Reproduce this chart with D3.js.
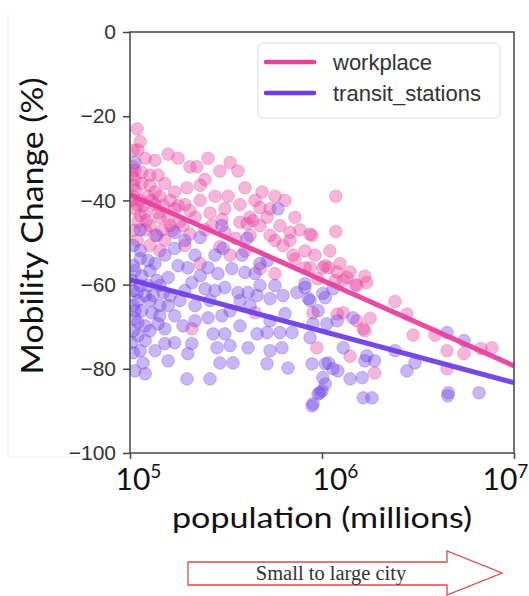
<!DOCTYPE html>
<html><head><meta charset="utf-8">
<script src="https://cdn.jsdelivr.net/npm/d3@7"></script>
<style>body{margin:0;background:#fff;} svg{display:block;}</style>
</head><body>
<script>
// ---- data ----
const seriesNames = ["workplace", "transit_stations"];
const yTicks = [0, -20, -40, -60, -80, -100];
const xTicks = [1e5, 1e6, 1e7];
const xTickExp = ["5", "6", "7"];

// [population, mobility change %]
const workplacePoints = [
 [1.09e5,-23],[1.10e5,-28],[1.13e5,-26],[1.04e5,-32],[1.20e5,-30],[1.06e5,-35],[1.15e5,-36],[1.27e5,-34],
 [1.04e5,-39],[1.13e5,-40],[1.24e5,-39],[1.35e5,-38],[1.06e5,-42],[1.20e5,-43],[1.35e5,-41],[1.43e5,-44],
 [1.10e5,-45],[1.27e5,-46],[1.47e5,-47],[1.62e5,-40],[1.52e5,-36],[1.71e5,-38],[1.35e5,-30.5],[1.58e5,-29],
 [1.78e5,-30],[2.05e5,-32],[2.23e5,-32],[2.55e5,-30],[2.94e5,-33],[3.32e5,-31],[3.65e5,-33],[3.97e5,-37],
 [1.98e5,-37],[2.46e5,-35],[3.24e5,-39],[2.77e5,-39],[2.32e5,-40],[1.93e5,-41],[2.18e5,-44],[2.61e5,-43],
 [3.12e5,-42],[3.74e5,-41],[4.48e5,-40],[4.87e5,-38],[5.69e5,-39],[6.42e5,-40],[5.36e5,-42],[4.22e5,-44],
 [4.75e5,-46],[6.04e5,-46],[7.23e5,-44],[7.68e5,-47],[6.81e5,-49.5],[5.69e5,-49.5],[8.66e5,-48],[8.15e5,-52],
 [7.23e5,-54],[9.2e5,-53],[1.10e6,-52],[1.04e6,-55.5],[1.24e6,-55],[1.40e6,-57],[1.17e6,-59],[1.49e6,-60],
 [9.5e5,-58.6],[1.18e6,-39],[1.18e6,-47.4],[8.15e5,-56],[1.01e6,-56],[1.20e6,-57],[1.29e6,-59],[1.67e6,-58],
 [1.71e6,-59.5],[2.4e6,-64],[2.77e6,-67],[2.98e6,-72],[4.48e6,-75.7],[5.49e6,-76.4],[6.73e6,-75.2],[1.29e6,-66.7],
 [1.78e6,-68],[1.64e6,-70.5],[1.88e6,-81],[4.48e6,-80],[1.40e6,-77],[3.88e6,-72],[7.67e6,-75],[9.4e5,-75],
 [1.52e6,-68.6],[1.67e6,-71],[1.20e6,-67],[8.98e5,-66.7],[4.48e5,-66.7],[4.75e5,-41.7],[4.37e5,-44.8],[5.36e5,-48.3],
 [6.81e5,-47.6],[8.87e5,-48.3],[6.26e5,-50.7],[7.06e5,-53],[5.69e5,-57.4],[8.66e5,-56],[1.08e6,-56],[1.35e6,-58.3],
 [4.75e5,-56.2],[1.52e6,-60.2],[1.04e5,-36.4],[1.09e5,-41],[1.20e5,-47],[1.52e5,-49.5],[1.82e5,-45],[2.05e5,-48],
 [2.46e5,-47],[2.94e5,-51],[3.55e5,-49],[3.97e5,-52],[3.32e5,-53],[2.32e5,-55],[1.71e5,-42],[1.43e5,-39],
 [1.02e5,-34],[1.27e5,-50.7],[1.62e5,-46],[1.93e5,-50.7],[2.10e5,-70.5],[4.07e5,-45.5],[5.17e5,-44],[3.01e5,-44.5],
 [1.02e5,-40],[1.07e5,-37.6],[1.13e5,-43.6],[1.17e5,-41.2],[1.22e5,-44.8],[1.30e5,-40],[1.40e5,-42.9],[1.49e5,-41.2],
 [1.58e5,-44.3],[1.66e5,-47.1],[1.78e5,-41.2],[1.89e5,-46],[2.05e5,-42.4],[1.04e5,-47.1],[1.09e5,-49.5],[1.35e5,-48.3],
 [1.43e5,-51.9],[1.06e5,-32.9],[1.15e5,-33.3],[1.27e5,-36.4],[1.40e5,-34],[1.04e5,-28.1],[2.32e5,-36.4],[2.67e5,-46],
 [4.22e5,-48.3],[3.74e5,-45.2],[3.12e5,-47.6]
];
const transitPoints = [
 [1.06e5,-31],[5.9e5,-42],[1.38e5,-48.3],[1.71e5,-47.6],[2.32e5,-48.8],[3.01e5,-46],[3.05e5,-51.4],[1.71e5,-51.4],
 [1.35e5,-55],[1.78e5,-55.5],[2.18e5,-53],[2.0e5,-56],[2.55e5,-56],[2.87e5,-57.4],[3.39e5,-56.2],[3.97e5,-57.1],
 [3.83e5,-53],[4.07e5,-49],[3.12e5,-60.7],[2.46e5,-61],[3.65e5,-61.9],[4.12e5,-61.9],[2.10e5,-59.5],[1.58e5,-58.3],
 [1.06e5,-56.7],[1.13e5,-60.2],[1.20e5,-62.6],[1.27e5,-63.8],[1.43e5,-65],[1.62e5,-62.6],[1.10e5,-63.8],[1.04e5,-61.4],
 [1.15e5,-66.2],[1.10e5,-69],[1.40e5,-69.3],[1.20e5,-73.3],[1.52e5,-74],[1.71e5,-73.8],[2.10e5,-74],[2.0e5,-76.4],
 [1.58e5,-78.1],[1.17e5,-78.6],[1.06e5,-80.5],[1.20e5,-81.2],[1.98e5,-82.4],[2.61e5,-82.4],[2.84e5,-75],[2.94e5,-78.6],
 [3.44e5,-78.6],[2.71e5,-71.7],[3.12e5,-71.7],[4.12e5,-75],[2.55e5,-67.9],[1.43e5,-67.4],[1.10e5,-72.1],[6.42e5,-66.9],
 [4.59e5,-71.7],[5.17e5,-71.4],[6.04e5,-71.4],[6.98e5,-71.4],[5.36e5,-75.7],[6.19e5,-75],[5.17e5,-78.8],[6.65e5,-79.8],
 [8.87e5,-78.8],[1.04e6,-78.8],[1.14e6,-80],[1.01e6,-82.1],[1.0e6,-85.2],[9.54e5,-86],[8.98e5,-88.3],[1.40e6,-82.4],
 [1.62e6,-82.1],[1.67e6,-78.1],[1.64e6,-86.9],[1.82e6,-86.9],[8.66e5,-72.6],[8.98e5,-69.3],[1.06e6,-69.3],[1.20e6,-68.6],
 [1.45e6,-67.9],[8.15e5,-60.7],[8.66e5,-63.8],[9.54e5,-66.2],[1.04e6,-63.1],[1.14e6,-61],[1.29e6,-75],[1.71e6,-76.9],
 [2.4e6,-75.7],[1.08e6,-78.6],[1.21e6,-80.5],[2.77e6,-80.5],[3.05e6,-78.6],[4.48e6,-71.4],[5.49e6,-73.3],[8.87e5,-88.8],
 [9.76e5,-85.7],[1.04e6,-83.6],[4.52e6,-86.4],[6.58e6,-85.7],[1.88e6,-78.1],[4.55e6,-85.7],[1.04e5,-50.7],[1.13e5,-53.8],
 [1.27e5,-56.7],[1.43e5,-60.2],[1.82e5,-63.8],[2.18e5,-65],[2.61e5,-63.8],[3.32e5,-66.2],[4.22e5,-65],[5.69e5,-60.2],
 [4.75e5,-60.2],[5.36e5,-68.6],[3.74e5,-69.8],[1.93e5,-61.4],[1.06e5,-66.2],[1.04e5,-71],[1.27e5,-71],[1.04e5,-76.2],
 [1.13e5,-47],[1.52e5,-53],[2.77e5,-53],[4.59e5,-62.6],[5.36e5,-63.3],[6.26e5,-62.6],[7.4e5,-61.9],[8.5e5,-63.3],
 [1.01e6,-62.1],[8.15e5,-59.8],[4.48e5,-57.4],[4.75e5,-55],[5.2e5,-54.3],
 [1.02e5,-59],[1.09e5,-61.9],[1.15e5,-57.9],[1.24e5,-60.2],[1.32e5,-62.6],[1.38e5,-59],[1.49e5,-61.9],[1.58e5,-65],
 [1.71e5,-67.4],[1.06e5,-68.1],[1.20e5,-69.8],[1.30e5,-66.7],[1.52e5,-70.5],[1.89e5,-69.8],[1.02e5,-73.8],[1.13e5,-75.7],
 [1.35e5,-75.7],[1.04e5,-55.5],[1.13e5,-51.9],[1.24e5,-54.3],[1.93e5,-49.5],[2.32e5,-57.9],[2.77e5,-61.4],[2.18e5,-68.6],
 [3.01e5,-67.4],[3.74e5,-63.8],[3.32e5,-74.5],[1.04e5,-65]
];
// fitted regression lines (endpoints)
const workplaceFit = [[1e5,-38.6],[1e7,-79.3]];
const transitFit = [[1e5,-58.8],[1e7,-83.3]];

// ---- drawing ----
const W = 529, H = 596;
const m = {l:130, t:32, r:15, b:143};
const pink = "#e8409f", purple = "#6e3fe6";
const svg = d3.select("body").append("svg").attr("width",W).attr("height",H);

// faint outer frame from the source figure
svg.append("path").attr("d","M8,13V457H112").attr("fill","none").attr("stroke","#eeeeee").attr("stroke-width",1);

const x = d3.scaleLog().domain([1e5,1e7]).range([m.l, W-m.r]);
const y = d3.scaleLinear().domain([-100,0]).range([H-m.b, m.t]);

svg.append("clipPath").attr("id","clip").append("rect")
  .attr("x",m.l).attr("y",m.t).attr("width",W-m.r-m.l).attr("height",H-m.b-m.t);
const plot = svg.append("g").attr("clip-path","url(#clip)");

function drawPts(data,color){
  plot.append("g").selectAll("circle").data(data).join("circle")
    .attr("cx",d=>x(d[0])).attr("cy",d=>y(d[1])).attr("r",6.3)
    .attr("fill",color).attr("fill-opacity",0.38)
    .attr("stroke",color).attr("stroke-opacity",0.3).attr("stroke-width",1);
}
drawPts(workplacePoints,pink);
drawPts(transitPoints,purple);
const line = d3.line().x(d=>x(d[0])).y(d=>y(d[1]));
plot.append("path").attr("d",line(workplaceFit)).attr("stroke",pink).attr("stroke-width",5).attr("fill","none").attr("stroke-opacity",0.95);
plot.append("path").attr("d",line(transitFit)).attr("stroke",purple).attr("stroke-width",5).attr("fill","none").attr("stroke-opacity",0.95);

// y axis
const yAx = svg.append("g").attr("transform",`translate(${m.l},0)`)
  .call(d3.axisLeft(y).tickValues(yTicks).tickSize(7).tickPadding(7)
    .tickFormat(d=> d===0 ? "0" : "\u2212"+Math.abs(d)));
yAx.select(".domain").remove();
yAx.selectAll("line").attr("stroke","#444").attr("stroke-width",1.5);
yAx.selectAll("text").attr("font-family","Liberation Sans, Arial, sans-serif").attr("font-size",21).attr("fill","#333");

// x axis
const xAx = svg.append("g").attr("transform",`translate(0,${H-m.b})`)
  .call(d3.axisBottom(x).tickValues(xTicks).tickSize(6).tickFormat(""));
xAx.select(".domain").remove();
xAx.selectAll("line").attr("stroke","#444").attr("stroke-width",1.5);
const xOff = [-15, -10, -32];
xAx.selectAll(".tick").each(function(d,i){
  const t = d3.select(this).append("text").attr("x",xOff[i]).attr("y",37)
    .attr("text-anchor","start").attr("fill","#111")
    .attr("font-family","Lato, sans-serif");
  t.append("tspan").attr("font-size",30).text("10");
  t.append("tspan").attr("font-size",19).attr("dy",-12).text(xTickExp[i]);
});

// frame
svg.append("rect").attr("x",m.l).attr("y",m.t).attr("width",W-m.r-m.l).attr("height",H-m.b-m.t)
  .attr("fill","none").attr("stroke","#444").attr("stroke-width",1.5);

// axis titles
svg.append("text").attr("x",322).attr("y",528).attr("text-anchor","middle")
  .attr("font-family","Lato, sans-serif").attr("font-size",29).attr("fill","#111")
  .attr("textLength",300).attr("lengthAdjust","spacingAndGlyphs")
  .text("population (millions)");
svg.append("text").attr("transform","translate(43,226) rotate(-90)").attr("text-anchor","middle")
  .attr("font-family","Lato, sans-serif").attr("font-size",30).attr("fill","#111")
  .attr("textLength",297).attr("lengthAdjust","spacingAndGlyphs")
  .text("Mobility Change (%)");

// legend
const lg = svg.append("g");
lg.append("rect").attr("x",258).attr("y",43).attr("width",242).attr("height",75).attr("rx",5)
  .attr("fill","#fff").attr("fill-opacity",0.85).attr("stroke","#dddddd").attr("stroke-width",1);
[pink,purple].forEach((c,i)=>{
  const yy = 62 + i*31;
  lg.append("line").attr("x1",266).attr("x2",314).attr("y1",yy).attr("y2",yy)
    .attr("stroke",c).attr("stroke-width",4.5).attr("stroke-linecap","round");
  lg.append("text").attr("x",333).attr("y",yy+8).attr("font-family","Liberation Sans, Arial, sans-serif")
    .attr("font-size",22).attr("fill","#333").text(seriesNames[i]);
});

// arrow annotation
svg.append("path").attr("d","M188,562H447V551L502,573L447,595V585H188Z")
  .attr("fill","#fff").attr("stroke","#e04848").attr("stroke-width",1.3);
svg.append("text").attr("x",331).attr("y",580).attr("text-anchor","middle")
  .attr("font-family","Liberation Serif, Times New Roman, serif").attr("font-size",20.5).attr("fill","#333")
  .text("Small to large city");
</script>
</body></html>
